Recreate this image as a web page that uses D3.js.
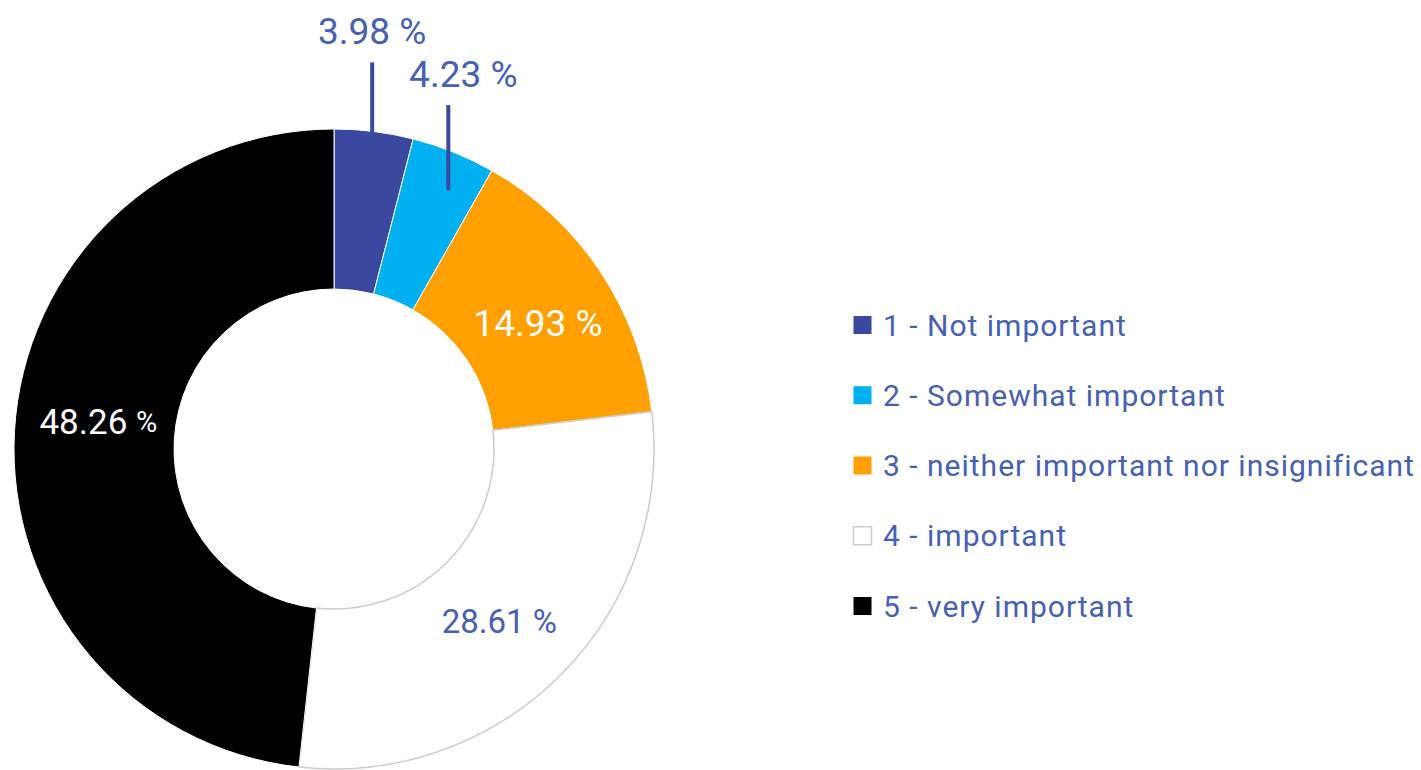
<!DOCTYPE html>
<html>
<head>
<meta charset="utf-8">
<script src="https://cdnjs.cloudflare.com/ajax/libs/d3/7.8.5/d3.min.js"></script>
<style>
  body { margin: 0; background: #fff; }
  text { font-family: Roboto, "Noto Sans", sans-serif; }
</style>
</head>
<body>
<script>
"use strict";
(function(){
    const categories = ["1 - Not important", "2 - Somewhat important", "3 - neither important nor insignificant", "4 - important", "5 - very important"];
    const shares = [3.98, 4.23, 14.93, 28.61, 48.26];
    const sliceColors = ["#3a48a0", "#00b0f0", "#ffa000", "#ffffff", "#000000"];
    const labelColors = ["#4660b4", "#4660b4", "#ffffff", "#4660b4", "#ffffff"];
    const outsideLabel = [true, true, false, false, false];

    const measurements = {
        width: 1421,
        height: 770,
        cx: 334,
        cy: 449,
        outer: 320,
        inner: 160
    }

    // per-label look: font size, size of the "%" and small nudges
    const labelStyle = [
        { size: 37, pct: 37, dx: 0, dy: 0, lineDy: 2 },
        { size: 37, pct: 37, dx: 15, dy: 0, lineDy: 25 },
        { size: 37, pct: 37, dx: 4, dy: 7 },
        { size: 33, pct: 33, dx: -5, dy: 3 },
        { size: 35, pct: 29, dx: 4, dy: -14 }
    ];

    const textBlue = "#4660b4";

    let svg = d3.select("body").append("svg")
        .attr("width", measurements.width)
        .attr("height", measurements.height);

    let data = categories.map((c, i) => ({ name: c, value: shares[i], i: i }));

    let pie = d3.pie().sort(null).value((d) => d.value);
    let arcs = pie(data);

    let arc = d3.arc()
        .innerRadius(measurements.inner)
        .outerRadius(measurements.outer);

    let labelArc = d3.arc()
        .innerRadius(240)
        .outerRadius(240);

    let chart = svg.append("g")
        .attr("transform", "translate(" + measurements.cx + "," + measurements.cy + ")");

    chart.selectAll("path.slice")
        .data(arcs)
        .enter()
        .append("path")
        .attr("class", "slice")
        .attr("d", arc)
        .attr("fill", (d) => sliceColors[d.data.i])
        .attr("stroke", (d) => d.data.i === 3 ? "#cccccc" : "#ffffff")
        .attr("stroke-width", (d) => d.data.i === 3 ? 1.5 : 1);

    function writeLabel(sel, d) {
        let st = labelStyle[d.data.i];
        sel.attr("text-anchor", "middle")
            .attr("dominant-baseline", "central")
            .style("font-size", st.size + "px")
            .attr("fill", labelColors[d.data.i]);
        sel.append("tspan").text(d.data.value.toFixed(2) + " ");
        sel.append("tspan").style("font-size", st.pct + "px").text("%");
    }

    // labels inside the ring
    chart.selectAll("text.inside")
        .data(arcs.filter((d) => !outsideLabel[d.data.i]))
        .enter()
        .append("text")
        .attr("class", "inside")
        .attr("transform", (d) => {
            let c = labelArc.centroid(d);
            let st = labelStyle[d.data.i];
            return "translate(" + (c[0] + st.dx) + "," + (c[1] + st.dy) + ")";
        })
        .each(function(d) { writeLabel(d3.select(this), d); });

    // small slices: vertical leader line and label above
    const lineR = 306, lineLen = 85;
    arcs.filter((d) => outsideLabel[d.data.i]).forEach((d) => {
        let st = labelStyle[d.data.i];
        let a = (d.startAngle + d.endAngle) / 2;
        let x = lineR * Math.sin(a);
        let y0 = -lineR * Math.cos(a) + st.lineDy;
        chart.append("line")
            .attr("x1", x).attr("x2", x)
            .attr("y1", y0).attr("y2", y0 - lineLen)
            .attr("stroke", "#3a48a0")
            .attr("stroke-width", 4);
        let t = chart.append("text")
            .attr("x", x + st.dx)
            .attr("y", y0 - lineLen - 31);
        writeLabel(t, d);
    });

    // legend
    let legendY = d3.scalePoint()
        .domain(categories)
        .range([325, 606]);

    let legend = svg.selectAll("g.legend")
        .data(data)
        .enter()
        .append("g")
        .attr("class", "legend")
        .attr("transform", (d) => "translate(853," + legendY(d.name) + ")");

    legend.append("rect")
        .attr("x", 0.5)
        .attr("y", -9)
        .attr("width", 18)
        .attr("height", 18)
        .attr("fill", (d) => sliceColors[d.i])
        .attr("stroke", (d) => d.i === 3 ? "#cccccc" : "none")
        .attr("stroke-width", 1.5);

    legend.append("text")
        .attr("x", 30)
        .attr("y", 0)
        .attr("dominant-baseline", "central")
        .style("font-size", "30px")
        .style("letter-spacing", "1px")
        .attr("fill", textBlue)
        .text((d) => d.name);
})()
</script>
</body>
</html>
